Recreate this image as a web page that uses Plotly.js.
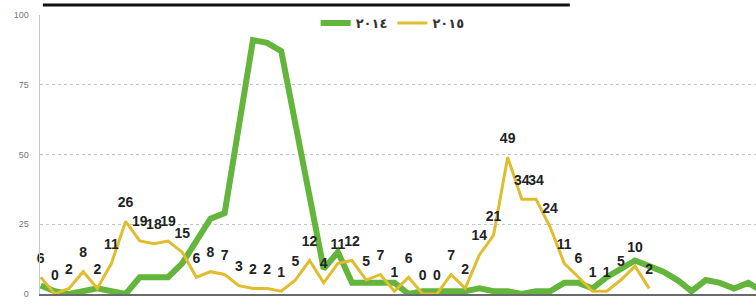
<!DOCTYPE html>
<html>
<head>
<meta charset="utf-8">
<script src="https://cdn.plot.ly/plotly-3.0.1.min.js"></script>
<style>
html,body{margin:0;padding:0;background:#fff;}
#chart{width:756px;height:305px;}
</style>
</head>
<body>
<div id="chart"></div>
<script>
// Series names (legend)
const seriesNames = ["٢٠١٤", "٢٠١٥"];
// 2014 series (green), one value per period
const green2014 = [3,1,0,1,2,1,0,6,6,6,11,19,27,29,60,91,90,87,61,35,9,15,4,4,4,4,0,1,1,1,1,2,1,1,0,1,1,4,4,2,6,9,12,10,8,5,1,5,4,2,4,1];
// 2015 series (yellow), labelled values
const yellow2015 = [6,0,2,8,2,11,26,19,18,19,15,6,8,7,3,2,2,1,5,12,4,11,12,5,7,1,6,0,0,7,2,14,21,49,34,34,24,11,6,1,1,5,10,2];
// y-axis ticks
const yTicks = [0,25,50,75,100];

const xG = green2014.map((_, i) => i);
const xY = yellow2015.map((_, i) => i);

const traces = [
  {
    x: xG, y: green2014, name: seriesNames[0], type: "scatter", mode: "lines",
    line: {color: "#63b53b", width: 6},
    hoverinfo: "skip"
  },
  {
    x: xY, y: yellow2015, name: seriesNames[1], type: "scatter", mode: "lines",
    line: {color: "#dfbd2e", width: 3},
    hoverinfo: "skip"
  },
  {
    x: xY, y: yellow2015, name: seriesNames[1] + " labels", type: "scatter", mode: "markers+text",
    showlegend: false,
    marker: {size: 16, opacity: 0, color: "#dfbd2e"},
    text: yellow2015.map(String),
    textposition: "top center",
    textfont: {family: "Liberation Sans, Arial, sans-serif", size: 14, color: "#222", weight: "bold"},
    cliponaxis: false,
    hoverinfo: "skip"
  }
];

const layout = {
  width: 756, height: 305,
  margin: {l: 40, r: 0, t: 15, b: 11},
  paper_bgcolor: "#fff", plot_bgcolor: "#fff",
  showlegend: true,
  legend: {
    orientation: "h", x: 0.385, y: 1.025, xanchor: "left", yanchor: "top",
    bgcolor: "rgba(0,0,0,0)",
    font: {family: "DejaVu Sans, sans-serif", size: 13, color: "#333", weight: "bold"},
    itemwidth: 30, tracegroupgap: 0
  },
  xaxis: {
    range: [-0.05, 50.55],
    showgrid: false, zeroline: false,
    showticklabels: false, ticks: "",
    showline: true, linecolor: "#6a6a6a", linewidth: 2,
    fixedrange: true
  },
  yaxis: {
    range: [0, 100],
    tickvals: yTicks, ticktext: yTicks.map(String),
    tickfont: {family: "Liberation Sans, Arial, sans-serif", size: 9, color: "#777"},
    showgrid: true, gridcolor: "#c4c4c4", griddash: "dot", gridwidth: 1,
    zeroline: false, showline: true, linecolor: "#c8c8c8", linewidth: 1.5,
    ticks: "", ticklabelstandoff: 8,
    fixedrange: true
  },
  shapes: [
    {type: "line", xref: "paper", yref: "paper", x0: 0.004, x1: 0.74, y0: 1.036, y1: 1.036,
     line: {color: "#111", width: 3}}
  ]
};

Plotly.newPlot("chart", traces, layout, {displayModeBar: false, staticPlot: true});
</script>
</body>
</html>
